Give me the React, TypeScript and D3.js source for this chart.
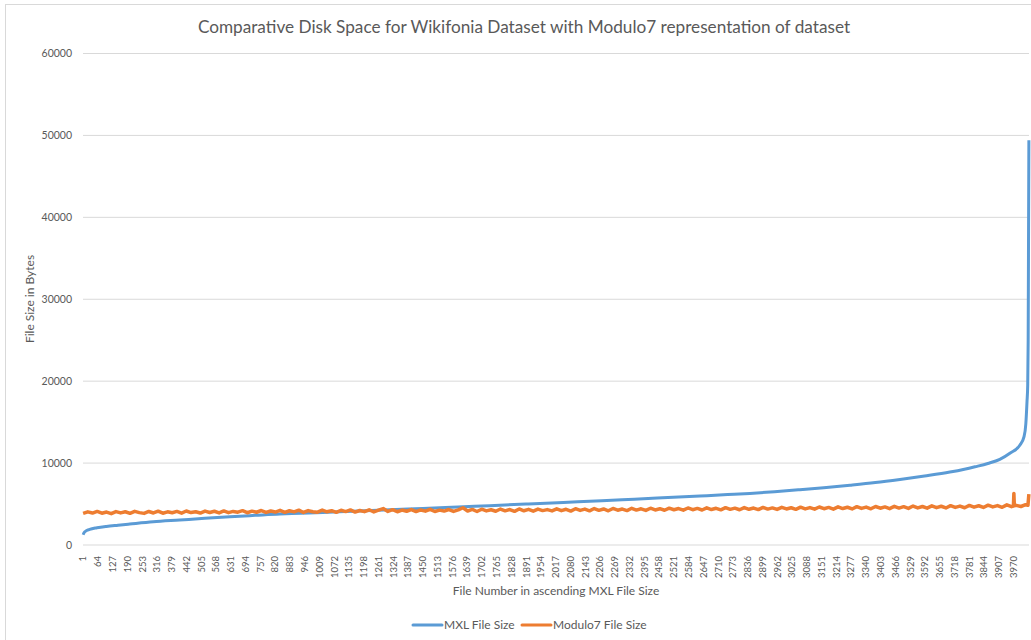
import React from 'react';
import * as d3 from 'd3';

// chart texts
const chartTitle = 'Comparative Disk Space for Wikifonia Dataset with Modulo7 representation of dataset';
const xTitle = 'File Number  in ascending MXL File Size';
const yTitle = 'File Size in Bytes';
const seriesNames = ['MXL File Size', 'Modulo7 File Size'];
const seriesColors = ['#5B9BD5', '#ED7D31'];

// number of files on the category axis
const FILE_COUNT = 4035;

const yTicks = [0, 10000, 20000, 30000, 40000, 50000, 60000];

const xTickLabels = [
  1, 64, 127, 190, 253, 316, 379, 442, 505, 568, 631, 694, 757, 820, 883, 946,
  1009, 1072, 1135, 1198, 1261, 1324, 1387, 1450, 1513, 1576, 1639, 1702, 1765,
  1828, 1891, 1954, 2017, 2080, 2143, 2206, 2269, 2332, 2395, 2458, 2521, 2584,
  2647, 2710, 2773, 2836, 2899, 2962, 3025, 3088, 3151, 3214, 3277, 3340, 3403,
  3466, 3529, 3592, 3655, 3718, 3781, 3844, 3907, 3970,
];

// MXL file size, read at sampled file numbers (sorted ascending)
const mxlFiles = [
  1, 4, 10, 29, 60, 100, 150, 200, 300, 413, 520, 627, 735, 840, 930, 1023,
  1150, 1309, 1450, 1600, 1735, 1900, 2050, 2162, 2300, 2450, 2632, 2750, 2845,
  2950, 3058, 3160, 3272, 3380, 3485, 3590, 3698, 3760, 3805, 3860, 3911, 3954,
  3997, 4014, 4022, 4027, 4030, 4032, 4035,
];
const mxlSizes = [
  1250, 1450, 1650, 1900, 2100, 2270, 2420, 2560, 2830, 3050, 3260, 3450, 3620,
  3780, 3870, 3960, 4130, 4300, 4470, 4640, 4800, 5010, 5200, 5350, 5530, 5730,
  5980, 6150, 6300, 6500, 6750, 7000, 7300, 7620, 8000, 8420, 8900, 9250, 9550,
  9950, 10450, 11200, 12200, 13200, 14800, 17500, 19500, 25000, 49400,
];

// Modulo7 file size, read every 20th file starting at file 1
const modStep = 20;
const modSizes = [
  3850, 4050, 3900, 4100, 3880, 4020, 3830, 4080, 3920, 4060,
  3870, 4110, 3950, 3860, 4090, 3910, 4130, 3880, 4050, 3940,
  4100, 3890, 4150, 3960, 4060, 3900, 4140, 3970, 4120, 3920,
  4160, 3950, 4100, 4010, 4190, 3940, 4130, 4000, 4210, 3980,
  4150, 4020, 4230, 3990, 4180, 4040, 4250, 3970, 4200, 4060,
  4010, 4260, 4050, 4190, 3990, 4240, 4080, 4280, 4020, 4210,
  4070, 4300, 4040, 4250, 4450, 4100, 4310, 4060, 4270, 4120,
  4320, 4080, 4280, 4130, 4350, 4090, 4260, 4140, 4330, 4100,
  4280, 4550, 4150, 4340, 4090, 4370, 4160, 4300, 4120, 4390,
  4170, 4330, 4110, 4400, 4180, 4350, 4130, 4380, 4200, 4320,
  4160, 4420, 4190, 4360, 4140, 4430, 4220, 4380, 4170, 4450,
  4230, 4400, 4180, 4460, 4250, 4390, 4200, 4480, 4260, 4420,
  4220, 4490, 4280, 4430, 4240, 4500, 4300, 4450, 4250, 4520,
  4310, 4470, 4270, 4540, 4330, 4480, 4290, 4560, 4350, 4500,
  4300, 4570, 4360, 4510, 4320, 4590, 4380, 4530, 4340, 4600,
  4400, 4550, 4350, 4620, 4410, 4570, 4370, 4640, 4430, 4590,
  4380, 4660, 4450, 4610, 4400, 4680, 4470, 4630, 4420, 4700,
  4490, 4650, 4440, 4720, 4510, 4680, 4470, 4760, 4530, 4700,
  4500, 4780, 4560, 4730, 4520, 4800, 4590, 4750, 4550, 4830,
  4620, 4790, 4580, 4860, 4650, 4810, 4600, 4900, 4680, 4840,
  4700, 4920,
];
// single-file peaks between the samples: [file, size]
const modSpikes: [number, number][] = [
  [3969, 4750], [3971, 6300], [3973, 4780], [4031, 4850], [4035, 6200],
];

const W = 1031;
const H = 640;
const plot = { left: 83, right: 1029, top: 53.5, bottom: 545 };
const font = 'Lato, "Liberation Sans", sans-serif';
const textColor = '#595959';
const gridColor = '#D9D9D9';

const App: React.FC = () => {
  const x = d3.scaleLinear().domain([0.5, FILE_COUNT + 0.5]).range([plot.left, plot.right]);
  const y = d3.scaleLinear().domain([0, 60000]).range([plot.bottom, plot.top]);

  const mxlData: [number, number][] = mxlFiles.map((f, i) => [f, mxlSizes[i]]);
  const modData: [number, number][] = modSizes
    .map((v, k) => [1 + k * modStep, v] as [number, number])
    .concat(modSpikes)
    .sort((a, b) => a[0] - b[0]);

  const smoothLine = d3
    .line<[number, number]>()
    .x((d) => x(d[0]))
    .y((d) => y(d[1]))
    .curve(d3.curveMonotoneX);

  const line = d3
    .line<[number, number]>()
    .x((d) => x(d[0]))
    .y((d) => y(d[1]));

  const legendItems = [
    { name: seriesNames[0], color: seriesColors[0], x0: 413, tx: 444 },
    { name: seriesNames[1], color: seriesColors[1], x0: 522, tx: 553 },
  ];

  return (
    <svg
      width={W}
      height={H}
      style={{ position: 'absolute', left: 0, top: 0, background: '#fff' }}
      fontFamily={font}
    >
      <rect x={5.5} y={4.5} width={1100} height={700} fill="#fff" stroke={gridColor} />

      <text x={524} y={33} textAnchor="middle" fontSize={17.2} fill={textColor}>
        {chartTitle}
      </text>

      {/* gridlines + y labels */}
      {yTicks.map((t) => (
        <g key={t}>
          <line x1={plot.left} x2={plot.right} y1={y(t)} y2={y(t)} stroke={gridColor} strokeWidth={1} />
          <text x={72} y={y(t)} dy="0.35em" textAnchor="end" fontSize={10.5} fill={textColor}>
            {t}
          </text>
        </g>
      ))}

      {/* x labels */}
      {xTickLabels.map((t) => (
        <text
          key={t}
          transform={`translate(${x(t)},556) rotate(-90)`}
          dy="0.35em"
          textAnchor="end"
          fontSize={9.5}
          fill={textColor}
        >
          {t}
        </text>
      ))}

      <path d={smoothLine(mxlData) || ''} fill="none" stroke={seriesColors[0]} strokeWidth={3} strokeLinejoin="round" />
      <path d={line(modData) || ''} fill="none" stroke={seriesColors[1]} strokeWidth={3.5} strokeLinejoin="round" />

      <text x={556} y={595} textAnchor="middle" fontSize={12} fill={textColor}>
        {xTitle}
      </text>
      <text transform="translate(34,299) rotate(-90)" textAnchor="middle" fontSize={12} fill={textColor}>
        {yTitle}
      </text>

      {legendItems.map((l) => (
        <g key={l.name}>
          <line x1={l.x0} x2={l.x0 + 29} y1={625} y2={625} stroke={l.color} strokeWidth={3} strokeLinecap="round" />
          <text x={l.tx} y={625} dy="0.35em" fontSize={12} fill={textColor}>
            {l.name}
          </text>
        </g>
      ))}
    </svg>
  );
};

export default App;
